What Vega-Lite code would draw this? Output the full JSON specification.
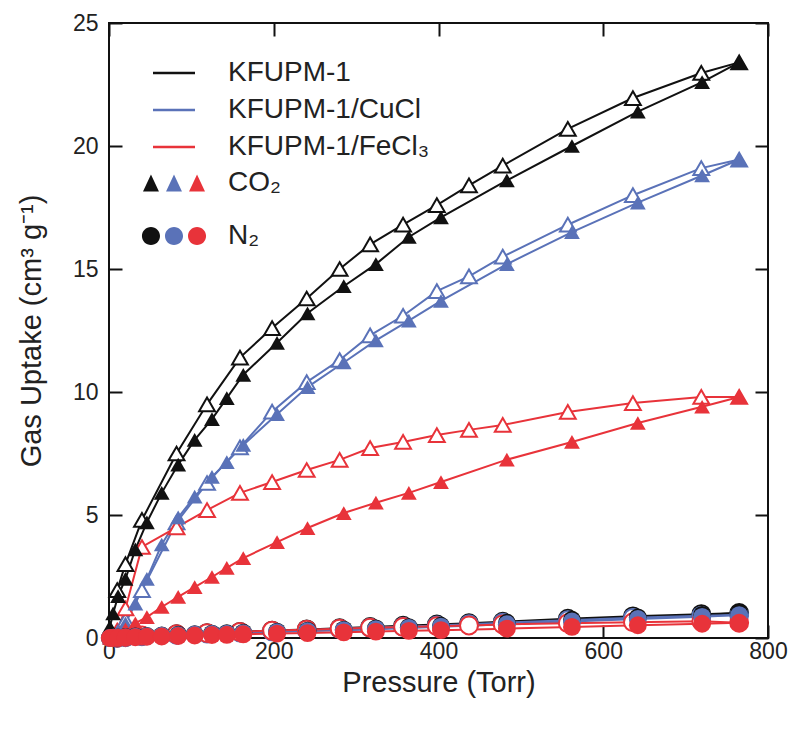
{
"$schema":"https://vega.github.io/schema/vega-lite/v6.json",
"autosize":"none",
"padding":{"left":109,"top":23,"right":25,"bottom":91},
"width":659,"height":615,
"config":{"view":{"stroke":"#111","strokeWidth":2},"font":"Liberation Sans",
"axis":{"domain":false,"grid":false,"ticks":true,"tickSize":-13,"tickWidth":2,"tickColor":"#111","labelFont":"Liberation Sans","labelFontSize":23,"labelColor":"#222","labelFlush":false,"titleFont":"Liberation Sans","titleFontSize":29,"titleFontWeight":"normal","titleColor":"#222"},
"legend":{"orient":"none","title":null,"symbolSize":196,"labelFont":"Liberation Sans","labelFontSize":28,"labelColor":"#222","labelOffset":40,"labelLimit":400}},
"datasets":{"iso":[
{"mat":"KFUPM-1","gas":"CO₂","br":"ads","p":1,"v":0.45},{"mat":"KFUPM-1","gas":"CO₂","br":"ads","p":5,"v":1.0},{"mat":"KFUPM-1","gas":"CO₂","br":"ads","p":11,"v":1.7},{"mat":"KFUPM-1","gas":"CO₂","br":"ads","p":20,"v":2.4},{"mat":"KFUPM-1","gas":"CO₂","br":"ads","p":32,"v":3.6},{"mat":"KFUPM-1","gas":"CO₂","br":"ads","p":46,"v":4.7},{"mat":"KFUPM-1","gas":"CO₂","br":"ads","p":64,"v":5.9},{"mat":"KFUPM-1","gas":"CO₂","br":"ads","p":84,"v":7.05},{"mat":"KFUPM-1","gas":"CO₂","br":"ads","p":104,"v":8.05},{"mat":"KFUPM-1","gas":"CO₂","br":"ads","p":125,"v":8.9},{"mat":"KFUPM-1","gas":"CO₂","br":"ads","p":143,"v":9.75},{"mat":"KFUPM-1","gas":"CO₂","br":"ads","p":163,"v":10.7},{"mat":"KFUPM-1","gas":"CO₂","br":"ads","p":204,"v":12.0},{"mat":"KFUPM-1","gas":"CO₂","br":"ads","p":241,"v":13.2},{"mat":"KFUPM-1","gas":"CO₂","br":"ads","p":285,"v":14.3},{"mat":"KFUPM-1","gas":"CO₂","br":"ads","p":324,"v":15.2},{"mat":"KFUPM-1","gas":"CO₂","br":"ads","p":364,"v":16.3},{"mat":"KFUPM-1","gas":"CO₂","br":"ads","p":403,"v":17.1},{"mat":"KFUPM-1","gas":"CO₂","br":"ads","p":483,"v":18.6},{"mat":"KFUPM-1","gas":"CO₂","br":"ads","p":562,"v":20.0},{"mat":"KFUPM-1","gas":"CO₂","br":"ads","p":642,"v":21.4},{"mat":"KFUPM-1","gas":"CO₂","br":"ads","p":720,"v":22.6},{"mat":"KFUPM-1","gas":"CO₂","br":"ads","p":765,"v":23.4},
{"mat":"KFUPM-1","gas":"CO₂","br":"des","p":765,"v":23.4},{"mat":"KFUPM-1","gas":"CO₂","br":"des","p":719,"v":22.97},{"mat":"KFUPM-1","gas":"CO₂","br":"des","p":636,"v":21.95},{"mat":"KFUPM-1","gas":"CO₂","br":"des","p":557,"v":20.7},{"mat":"KFUPM-1","gas":"CO₂","br":"des","p":478,"v":19.2},{"mat":"KFUPM-1","gas":"CO₂","br":"des","p":437,"v":18.4},{"mat":"KFUPM-1","gas":"CO₂","br":"des","p":398,"v":17.6},{"mat":"KFUPM-1","gas":"CO₂","br":"des","p":357,"v":16.8},{"mat":"KFUPM-1","gas":"CO₂","br":"des","p":317,"v":16.0},{"mat":"KFUPM-1","gas":"CO₂","br":"des","p":280,"v":15.0},{"mat":"KFUPM-1","gas":"CO₂","br":"des","p":240,"v":13.8},{"mat":"KFUPM-1","gas":"CO₂","br":"des","p":198,"v":12.6},{"mat":"KFUPM-1","gas":"CO₂","br":"des","p":159,"v":11.4},{"mat":"KFUPM-1","gas":"CO₂","br":"des","p":119,"v":9.5},{"mat":"KFUPM-1","gas":"CO₂","br":"des","p":82,"v":7.5},{"mat":"KFUPM-1","gas":"CO₂","br":"des","p":40,"v":4.8},{"mat":"KFUPM-1","gas":"CO₂","br":"des","p":20,"v":3.0},{"mat":"KFUPM-1","gas":"CO₂","br":"des","p":10,"v":1.95},
{"mat":"KFUPM-1/CuCl","gas":"CO₂","br":"ads","p":1,"v":0.05},{"mat":"KFUPM-1/CuCl","gas":"CO₂","br":"ads","p":5,"v":0.12},{"mat":"KFUPM-1/CuCl","gas":"CO₂","br":"ads","p":11,"v":0.3},{"mat":"KFUPM-1/CuCl","gas":"CO₂","br":"ads","p":20,"v":0.6},{"mat":"KFUPM-1/CuCl","gas":"CO₂","br":"ads","p":32,"v":1.4},{"mat":"KFUPM-1/CuCl","gas":"CO₂","br":"ads","p":46,"v":2.4},{"mat":"KFUPM-1/CuCl","gas":"CO₂","br":"ads","p":64,"v":3.8},{"mat":"KFUPM-1/CuCl","gas":"CO₂","br":"ads","p":84,"v":4.9},{"mat":"KFUPM-1/CuCl","gas":"CO₂","br":"ads","p":104,"v":5.75},{"mat":"KFUPM-1/CuCl","gas":"CO₂","br":"ads","p":125,"v":6.55},{"mat":"KFUPM-1/CuCl","gas":"CO₂","br":"ads","p":143,"v":7.15},{"mat":"KFUPM-1/CuCl","gas":"CO₂","br":"ads","p":163,"v":7.85},{"mat":"KFUPM-1/CuCl","gas":"CO₂","br":"ads","p":204,"v":9.1},{"mat":"KFUPM-1/CuCl","gas":"CO₂","br":"ads","p":241,"v":10.2},{"mat":"KFUPM-1/CuCl","gas":"CO₂","br":"ads","p":285,"v":11.2},{"mat":"KFUPM-1/CuCl","gas":"CO₂","br":"ads","p":324,"v":12.1},{"mat":"KFUPM-1/CuCl","gas":"CO₂","br":"ads","p":364,"v":12.9},{"mat":"KFUPM-1/CuCl","gas":"CO₂","br":"ads","p":403,"v":13.7},{"mat":"KFUPM-1/CuCl","gas":"CO₂","br":"ads","p":483,"v":15.2},{"mat":"KFUPM-1/CuCl","gas":"CO₂","br":"ads","p":562,"v":16.5},{"mat":"KFUPM-1/CuCl","gas":"CO₂","br":"ads","p":642,"v":17.7},{"mat":"KFUPM-1/CuCl","gas":"CO₂","br":"ads","p":720,"v":18.8},{"mat":"KFUPM-1/CuCl","gas":"CO₂","br":"ads","p":765,"v":19.45},
{"mat":"KFUPM-1/CuCl","gas":"CO₂","br":"des","p":765,"v":19.45},{"mat":"KFUPM-1/CuCl","gas":"CO₂","br":"des","p":719,"v":19.1},{"mat":"KFUPM-1/CuCl","gas":"CO₂","br":"des","p":636,"v":18.0},{"mat":"KFUPM-1/CuCl","gas":"CO₂","br":"des","p":557,"v":16.8},{"mat":"KFUPM-1/CuCl","gas":"CO₂","br":"des","p":478,"v":15.5},{"mat":"KFUPM-1/CuCl","gas":"CO₂","br":"des","p":437,"v":14.7},{"mat":"KFUPM-1/CuCl","gas":"CO₂","br":"des","p":398,"v":14.1},{"mat":"KFUPM-1/CuCl","gas":"CO₂","br":"des","p":357,"v":13.1},{"mat":"KFUPM-1/CuCl","gas":"CO₂","br":"des","p":317,"v":12.3},{"mat":"KFUPM-1/CuCl","gas":"CO₂","br":"des","p":280,"v":11.3},{"mat":"KFUPM-1/CuCl","gas":"CO₂","br":"des","p":240,"v":10.4},{"mat":"KFUPM-1/CuCl","gas":"CO₂","br":"des","p":198,"v":9.2},{"mat":"KFUPM-1/CuCl","gas":"CO₂","br":"des","p":159,"v":7.75},{"mat":"KFUPM-1/CuCl","gas":"CO₂","br":"des","p":119,"v":6.3},{"mat":"KFUPM-1/CuCl","gas":"CO₂","br":"des","p":82,"v":4.7},{"mat":"KFUPM-1/CuCl","gas":"CO₂","br":"des","p":40,"v":1.95},{"mat":"KFUPM-1/CuCl","gas":"CO₂","br":"des","p":20,"v":0.73},{"mat":"KFUPM-1/CuCl","gas":"CO₂","br":"des","p":10,"v":0.2},
{"mat":"KFUPM-1/FeCl₃","gas":"CO₂","br":"ads","p":1,"v":0.0},{"mat":"KFUPM-1/FeCl₃","gas":"CO₂","br":"ads","p":5,"v":0.05},{"mat":"KFUPM-1/FeCl₃","gas":"CO₂","br":"ads","p":11,"v":0.15},{"mat":"KFUPM-1/FeCl₃","gas":"CO₂","br":"ads","p":20,"v":0.35},{"mat":"KFUPM-1/FeCl₃","gas":"CO₂","br":"ads","p":32,"v":0.6},{"mat":"KFUPM-1/FeCl₃","gas":"CO₂","br":"ads","p":46,"v":0.85},{"mat":"KFUPM-1/FeCl₃","gas":"CO₂","br":"ads","p":64,"v":1.26},{"mat":"KFUPM-1/FeCl₃","gas":"CO₂","br":"ads","p":84,"v":1.67},{"mat":"KFUPM-1/FeCl₃","gas":"CO₂","br":"ads","p":104,"v":2.07},{"mat":"KFUPM-1/FeCl₃","gas":"CO₂","br":"ads","p":125,"v":2.48},{"mat":"KFUPM-1/FeCl₃","gas":"CO₂","br":"ads","p":143,"v":2.85},{"mat":"KFUPM-1/FeCl₃","gas":"CO₂","br":"ads","p":163,"v":3.25},{"mat":"KFUPM-1/FeCl₃","gas":"CO₂","br":"ads","p":204,"v":3.9},{"mat":"KFUPM-1/FeCl₃","gas":"CO₂","br":"ads","p":241,"v":4.47},{"mat":"KFUPM-1/FeCl₃","gas":"CO₂","br":"ads","p":285,"v":5.08},{"mat":"KFUPM-1/FeCl₃","gas":"CO₂","br":"ads","p":324,"v":5.5},{"mat":"KFUPM-1/FeCl₃","gas":"CO₂","br":"ads","p":364,"v":5.9},{"mat":"KFUPM-1/FeCl₃","gas":"CO₂","br":"ads","p":403,"v":6.34},{"mat":"KFUPM-1/FeCl₃","gas":"CO₂","br":"ads","p":483,"v":7.25},{"mat":"KFUPM-1/FeCl₃","gas":"CO₂","br":"ads","p":562,"v":7.97},{"mat":"KFUPM-1/FeCl₃","gas":"CO₂","br":"ads","p":642,"v":8.74},{"mat":"KFUPM-1/FeCl₃","gas":"CO₂","br":"ads","p":720,"v":9.4},{"mat":"KFUPM-1/FeCl₃","gas":"CO₂","br":"ads","p":765,"v":9.8},
{"mat":"KFUPM-1/FeCl₃","gas":"CO₂","br":"des","p":765,"v":9.8},{"mat":"KFUPM-1/FeCl₃","gas":"CO₂","br":"des","p":719,"v":9.8},{"mat":"KFUPM-1/FeCl₃","gas":"CO₂","br":"des","p":636,"v":9.55},{"mat":"KFUPM-1/FeCl₃","gas":"CO₂","br":"des","p":557,"v":9.19},{"mat":"KFUPM-1/FeCl₃","gas":"CO₂","br":"des","p":478,"v":8.66},{"mat":"KFUPM-1/FeCl₃","gas":"CO₂","br":"des","p":437,"v":8.46},{"mat":"KFUPM-1/FeCl₃","gas":"CO₂","br":"des","p":398,"v":8.25},{"mat":"KFUPM-1/FeCl₃","gas":"CO₂","br":"des","p":357,"v":7.97},{"mat":"KFUPM-1/FeCl₃","gas":"CO₂","br":"des","p":317,"v":7.72},{"mat":"KFUPM-1/FeCl₃","gas":"CO₂","br":"des","p":280,"v":7.24},{"mat":"KFUPM-1/FeCl₃","gas":"CO₂","br":"des","p":240,"v":6.83},{"mat":"KFUPM-1/FeCl₃","gas":"CO₂","br":"des","p":198,"v":6.34},{"mat":"KFUPM-1/FeCl₃","gas":"CO₂","br":"des","p":159,"v":5.9},{"mat":"KFUPM-1/FeCl₃","gas":"CO₂","br":"des","p":119,"v":5.2},{"mat":"KFUPM-1/FeCl₃","gas":"CO₂","br":"des","p":82,"v":4.5},{"mat":"KFUPM-1/FeCl₃","gas":"CO₂","br":"des","p":40,"v":3.7},{"mat":"KFUPM-1/FeCl₃","gas":"CO₂","br":"des","p":20,"v":1.2},{"mat":"KFUPM-1/FeCl₃","gas":"CO₂","br":"des","p":10,"v":0.3},
{"mat":"KFUPM-1","gas":"N₂","br":"ads","p":1,"v":0.0},{"mat":"KFUPM-1","gas":"N₂","br":"ads","p":5,"v":0.01},{"mat":"KFUPM-1","gas":"N₂","br":"ads","p":11,"v":0.02},{"mat":"KFUPM-1","gas":"N₂","br":"ads","p":20,"v":0.04},{"mat":"KFUPM-1","gas":"N₂","br":"ads","p":32,"v":0.06},{"mat":"KFUPM-1","gas":"N₂","br":"ads","p":46,"v":0.08},{"mat":"KFUPM-1","gas":"N₂","br":"ads","p":64,"v":0.1},{"mat":"KFUPM-1","gas":"N₂","br":"ads","p":84,"v":0.13},{"mat":"KFUPM-1","gas":"N₂","br":"ads","p":104,"v":0.15},{"mat":"KFUPM-1","gas":"N₂","br":"ads","p":125,"v":0.18},{"mat":"KFUPM-1","gas":"N₂","br":"ads","p":143,"v":0.2},{"mat":"KFUPM-1","gas":"N₂","br":"ads","p":163,"v":0.22},{"mat":"KFUPM-1","gas":"N₂","br":"ads","p":204,"v":0.26},{"mat":"KFUPM-1","gas":"N₂","br":"ads","p":241,"v":0.3},{"mat":"KFUPM-1","gas":"N₂","br":"ads","p":285,"v":0.34},{"mat":"KFUPM-1","gas":"N₂","br":"ads","p":324,"v":0.39},{"mat":"KFUPM-1","gas":"N₂","br":"ads","p":364,"v":0.44},{"mat":"KFUPM-1","gas":"N₂","br":"ads","p":403,"v":0.5},{"mat":"KFUPM-1","gas":"N₂","br":"ads","p":483,"v":0.62},{"mat":"KFUPM-1","gas":"N₂","br":"ads","p":562,"v":0.74},{"mat":"KFUPM-1","gas":"N₂","br":"ads","p":642,"v":0.84},{"mat":"KFUPM-1","gas":"N₂","br":"ads","p":720,"v":0.94},{"mat":"KFUPM-1","gas":"N₂","br":"ads","p":765,"v":1.02},
{"mat":"KFUPM-1","gas":"N₂","br":"des","p":765,"v":1.02},{"mat":"KFUPM-1","gas":"N₂","br":"des","p":719,"v":0.97},{"mat":"KFUPM-1","gas":"N₂","br":"des","p":636,"v":0.88},{"mat":"KFUPM-1","gas":"N₂","br":"des","p":557,"v":0.78},{"mat":"KFUPM-1","gas":"N₂","br":"des","p":478,"v":0.66},{"mat":"KFUPM-1","gas":"N₂","br":"des","p":437,"v":0.6},{"mat":"KFUPM-1","gas":"N₂","br":"des","p":398,"v":0.55},{"mat":"KFUPM-1","gas":"N₂","br":"des","p":357,"v":0.5},{"mat":"KFUPM-1","gas":"N₂","br":"des","p":317,"v":0.45},{"mat":"KFUPM-1","gas":"N₂","br":"des","p":280,"v":0.4},{"mat":"KFUPM-1","gas":"N₂","br":"des","p":240,"v":0.35},{"mat":"KFUPM-1","gas":"N₂","br":"des","p":198,"v":0.3},{"mat":"KFUPM-1","gas":"N₂","br":"des","p":159,"v":0.25},{"mat":"KFUPM-1","gas":"N₂","br":"des","p":119,"v":0.2},{"mat":"KFUPM-1","gas":"N₂","br":"des","p":82,"v":0.15},{"mat":"KFUPM-1","gas":"N₂","br":"des","p":40,"v":0.08},{"mat":"KFUPM-1","gas":"N₂","br":"des","p":20,"v":0.04},{"mat":"KFUPM-1","gas":"N₂","br":"des","p":10,"v":0.02},
{"mat":"KFUPM-1/CuCl","gas":"N₂","br":"ads","p":1,"v":0.0},{"mat":"KFUPM-1/CuCl","gas":"N₂","br":"ads","p":5,"v":0.01},{"mat":"KFUPM-1/CuCl","gas":"N₂","br":"ads","p":11,"v":0.02},{"mat":"KFUPM-1/CuCl","gas":"N₂","br":"ads","p":20,"v":0.03},{"mat":"KFUPM-1/CuCl","gas":"N₂","br":"ads","p":32,"v":0.05},{"mat":"KFUPM-1/CuCl","gas":"N₂","br":"ads","p":46,"v":0.07},{"mat":"KFUPM-1/CuCl","gas":"N₂","br":"ads","p":64,"v":0.09},{"mat":"KFUPM-1/CuCl","gas":"N₂","br":"ads","p":84,"v":0.11},{"mat":"KFUPM-1/CuCl","gas":"N₂","br":"ads","p":104,"v":0.14},{"mat":"KFUPM-1/CuCl","gas":"N₂","br":"ads","p":125,"v":0.16},{"mat":"KFUPM-1/CuCl","gas":"N₂","br":"ads","p":143,"v":0.18},{"mat":"KFUPM-1/CuCl","gas":"N₂","br":"ads","p":163,"v":0.2},{"mat":"KFUPM-1/CuCl","gas":"N₂","br":"ads","p":204,"v":0.24},{"mat":"KFUPM-1/CuCl","gas":"N₂","br":"ads","p":241,"v":0.28},{"mat":"KFUPM-1/CuCl","gas":"N₂","br":"ads","p":285,"v":0.32},{"mat":"KFUPM-1/CuCl","gas":"N₂","br":"ads","p":324,"v":0.36},{"mat":"KFUPM-1/CuCl","gas":"N₂","br":"ads","p":364,"v":0.41},{"mat":"KFUPM-1/CuCl","gas":"N₂","br":"ads","p":403,"v":0.46},{"mat":"KFUPM-1/CuCl","gas":"N₂","br":"ads","p":483,"v":0.56},{"mat":"KFUPM-1/CuCl","gas":"N₂","br":"ads","p":562,"v":0.67},{"mat":"KFUPM-1/CuCl","gas":"N₂","br":"ads","p":642,"v":0.77},{"mat":"KFUPM-1/CuCl","gas":"N₂","br":"ads","p":720,"v":0.86},{"mat":"KFUPM-1/CuCl","gas":"N₂","br":"ads","p":765,"v":0.93},
{"mat":"KFUPM-1/CuCl","gas":"N₂","br":"des","p":765,"v":0.93},{"mat":"KFUPM-1/CuCl","gas":"N₂","br":"des","p":719,"v":0.9},{"mat":"KFUPM-1/CuCl","gas":"N₂","br":"des","p":636,"v":0.82},{"mat":"KFUPM-1/CuCl","gas":"N₂","br":"des","p":557,"v":0.72},{"mat":"KFUPM-1/CuCl","gas":"N₂","br":"des","p":478,"v":0.62},{"mat":"KFUPM-1/CuCl","gas":"N₂","br":"des","p":437,"v":0.56},{"mat":"KFUPM-1/CuCl","gas":"N₂","br":"des","p":398,"v":0.51},{"mat":"KFUPM-1/CuCl","gas":"N₂","br":"des","p":357,"v":0.46},{"mat":"KFUPM-1/CuCl","gas":"N₂","br":"des","p":317,"v":0.42},{"mat":"KFUPM-1/CuCl","gas":"N₂","br":"des","p":280,"v":0.37},{"mat":"KFUPM-1/CuCl","gas":"N₂","br":"des","p":240,"v":0.32},{"mat":"KFUPM-1/CuCl","gas":"N₂","br":"des","p":198,"v":0.27},{"mat":"KFUPM-1/CuCl","gas":"N₂","br":"des","p":159,"v":0.22},{"mat":"KFUPM-1/CuCl","gas":"N₂","br":"des","p":119,"v":0.18},{"mat":"KFUPM-1/CuCl","gas":"N₂","br":"des","p":82,"v":0.13},{"mat":"KFUPM-1/CuCl","gas":"N₂","br":"des","p":40,"v":0.07},{"mat":"KFUPM-1/CuCl","gas":"N₂","br":"des","p":20,"v":0.03},{"mat":"KFUPM-1/CuCl","gas":"N₂","br":"des","p":10,"v":0.01},
{"mat":"KFUPM-1/FeCl₃","gas":"N₂","br":"ads","p":1,"v":0.0},{"mat":"KFUPM-1/FeCl₃","gas":"N₂","br":"ads","p":5,"v":0.0},{"mat":"KFUPM-1/FeCl₃","gas":"N₂","br":"ads","p":11,"v":0.01},{"mat":"KFUPM-1/FeCl₃","gas":"N₂","br":"ads","p":20,"v":0.02},{"mat":"KFUPM-1/FeCl₃","gas":"N₂","br":"ads","p":32,"v":0.03},{"mat":"KFUPM-1/FeCl₃","gas":"N₂","br":"ads","p":46,"v":0.05},{"mat":"KFUPM-1/FeCl₃","gas":"N₂","br":"ads","p":64,"v":0.06},{"mat":"KFUPM-1/FeCl₃","gas":"N₂","br":"ads","p":84,"v":0.08},{"mat":"KFUPM-1/FeCl₃","gas":"N₂","br":"ads","p":104,"v":0.1},{"mat":"KFUPM-1/FeCl₃","gas":"N₂","br":"ads","p":125,"v":0.12},{"mat":"KFUPM-1/FeCl₃","gas":"N₂","br":"ads","p":143,"v":0.13},{"mat":"KFUPM-1/FeCl₃","gas":"N₂","br":"ads","p":163,"v":0.15},{"mat":"KFUPM-1/FeCl₃","gas":"N₂","br":"ads","p":204,"v":0.18},{"mat":"KFUPM-1/FeCl₃","gas":"N₂","br":"ads","p":241,"v":0.2},{"mat":"KFUPM-1/FeCl₃","gas":"N₂","br":"ads","p":285,"v":0.23},{"mat":"KFUPM-1/FeCl₃","gas":"N₂","br":"ads","p":324,"v":0.26},{"mat":"KFUPM-1/FeCl₃","gas":"N₂","br":"ads","p":364,"v":0.29},{"mat":"KFUPM-1/FeCl₃","gas":"N₂","br":"ads","p":403,"v":0.32},{"mat":"KFUPM-1/FeCl₃","gas":"N₂","br":"ads","p":483,"v":0.38},{"mat":"KFUPM-1/FeCl₃","gas":"N₂","br":"ads","p":562,"v":0.45},{"mat":"KFUPM-1/FeCl₃","gas":"N₂","br":"ads","p":642,"v":0.52},{"mat":"KFUPM-1/FeCl₃","gas":"N₂","br":"ads","p":720,"v":0.58},{"mat":"KFUPM-1/FeCl₃","gas":"N₂","br":"ads","p":765,"v":0.62},
{"mat":"KFUPM-1/FeCl₃","gas":"N₂","br":"des","p":765,"v":0.62},{"mat":"KFUPM-1/FeCl₃","gas":"N₂","br":"des","p":719,"v":0.68},{"mat":"KFUPM-1/FeCl₃","gas":"N₂","br":"des","p":636,"v":0.64},{"mat":"KFUPM-1/FeCl₃","gas":"N₂","br":"des","p":557,"v":0.6},{"mat":"KFUPM-1/FeCl₃","gas":"N₂","br":"des","p":478,"v":0.55},{"mat":"KFUPM-1/FeCl₃","gas":"N₂","br":"des","p":437,"v":0.51},{"mat":"KFUPM-1/FeCl₃","gas":"N₂","br":"des","p":398,"v":0.48},{"mat":"KFUPM-1/FeCl₃","gas":"N₂","br":"des","p":357,"v":0.45},{"mat":"KFUPM-1/FeCl₃","gas":"N₂","br":"des","p":317,"v":0.42},{"mat":"KFUPM-1/FeCl₃","gas":"N₂","br":"des","p":280,"v":0.38},{"mat":"KFUPM-1/FeCl₃","gas":"N₂","br":"des","p":240,"v":0.34},{"mat":"KFUPM-1/FeCl₃","gas":"N₂","br":"des","p":198,"v":0.3},{"mat":"KFUPM-1/FeCl₃","gas":"N₂","br":"des","p":159,"v":0.25},{"mat":"KFUPM-1/FeCl₃","gas":"N₂","br":"des","p":119,"v":0.2},{"mat":"KFUPM-1/FeCl₃","gas":"N₂","br":"des","p":82,"v":0.15},{"mat":"KFUPM-1/FeCl₃","gas":"N₂","br":"des","p":40,"v":0.1},{"mat":"KFUPM-1/FeCl₃","gas":"N₂","br":"des","p":20,"v":0.05},{"mat":"KFUPM-1/FeCl₃","gas":"N₂","br":"des","p":10,"v":0.02}
]},
"data":{"name":"iso"},
"resolve":{"axis":{"x":"independent","y":"independent"}},
"layer":[
{"mark":{"type":"line","strokeWidth":2,"clip":false},
 "encoding":{
  "x":{"field":"p","type":"quantitative","scale":{"domain":[0,800],"nice":false},"axis":{"orient":"bottom","values":[0,200,400,600,800],"title":"Pressure (Torr)","labelPadding":15,"titlePadding":5}},
  "y":{"field":"v","type":"quantitative","scale":{"domain":[0,25],"nice":false},"axis":{"orient":"left","values":[0,5,10,15,20,25],"title":"Gas Uptake (cm³ g⁻¹)","labelPadding":24,"titlePadding":26}},
  "color":{"field":"mat","type":"nominal","scale":{"domain":["KFUPM-1","KFUPM-1/CuCl","KFUPM-1/FeCl₃"],"range":["#111111","#5a72b8","#e8333a"]},
   "legend":{"legendX":51,"legendY":36,"symbolType":"M-3,0L3,0","symbolStrokeWidth":2.5,"rowPadding":9,"symbolOpacity":1}},
  "detail":[{"field":"gas"},{"field":"br"}]
 }},
{"transform":[{"filter":"datum.br == 'ads'"}],
 "mark":{"type":"point","filled":true,"opacity":0,
   "color":{"gradient":"linear","x1":0,"y1":0,"x2":1,"y2":0,"stops":[{"offset":0,"color":"#111111"},{"offset":0.32,"color":"#111111"},{"offset":0.32,"color":"#5a72b8"},{"offset":0.68,"color":"#5a72b8"},{"offset":0.68,"color":"#e8333a"},{"offset":1,"color":"#e8333a"}]}},
 "encoding":{
  "x":{"field":"p","type":"quantitative","axis":{"orient":"top","labels":false,"title":null,"values":[0,200,400,600,800]}},
  "y":{"field":"v","type":"quantitative","axis":{"orient":"right","labels":false,"title":null,"values":[0,5,10,15,20,25]}},
  "shape":{"field":"gas","type":"nominal","scale":{"domain":["CO₂","N₂"],"range":["M-4.43,1.2L-3.29,-1.2L-2.15,1.2ZM-1.14,1.2L0,-1.2L1.14,1.2ZM2.15,1.2L3.29,-1.2L4.43,1.2Z","M-4.58,0C-4.58,-0.71 -4,-1.29 -3.29,-1.29C-2.58,-1.29 -2,-0.71 -2,0C-2,0.71 -2.58,1.29 -3.29,1.29C-4,1.29 -4.58,0.71 -4.58,0ZM-1.29,0C-1.29,-0.71 -0.71,-1.29 0,-1.29C0.71,-1.29 1.29,-0.71 1.29,0C1.29,0.71 0.71,1.29 0,1.29C-0.71,1.29 -1.29,0.71 -1.29,0ZM2,0C2,-0.71 2.58,-1.29 3.29,-1.29C4,-1.29 4.58,-0.71 4.58,0C4.58,0.71 4,1.29 3.29,1.29C2.58,1.29 2,0.71 2,0Z"]},
   "legend":{"legendX":51,"legendY":146,"rowPadding":25,"symbolOpacity":1,"symbolStrokeWidth":0,"symbolStrokeColor":"transparent"}}
 }},
{"transform":[{"filter":"datum.br == 'des' && datum.gas == 'CO₂'"}],
 "mark":{"type":"point","shape":"triangle-up","filled":true,"fill":"white","strokeWidth":2,"opacity":1,"size":250},
 "encoding":{
  "x":{"field":"p","type":"quantitative","axis":null},
  "y":{"field":"v","type":"quantitative","axis":null},
  "stroke":{"field":"mat","type":"nominal","scale":{"domain":["KFUPM-1","KFUPM-1/CuCl","KFUPM-1/FeCl₃"],"range":["#111111","#5a72b8","#e8333a"]},"legend":null}
 }},
{"transform":[{"filter":"datum.br == 'des' && datum.gas == 'N₂'"}],
 "mark":{"type":"point","shape":"circle","filled":true,"fill":"white","strokeWidth":2,"opacity":1,"size":320},
 "encoding":{
  "x":{"field":"p","type":"quantitative","axis":null},
  "y":{"field":"v","type":"quantitative","axis":null},
  "stroke":{"field":"mat","type":"nominal","legend":null}
 }},
{"transform":[{"filter":"datum.br == 'ads' && datum.gas == 'CO₂'"}],
 "mark":{"type":"point","shape":"triangle-up","filled":true,"opacity":1,"size":250},
 "encoding":{
  "x":{"field":"p","type":"quantitative","axis":null},
  "y":{"field":"v","type":"quantitative","axis":null},
  "color":{"field":"mat","type":"nominal"}
 }},
{"transform":[{"filter":"datum.br == 'ads' && datum.gas == 'N₂'"}],
 "mark":{"type":"point","shape":"circle","filled":true,"opacity":1,"size":320},
 "encoding":{
  "x":{"field":"p","type":"quantitative","axis":null},
  "y":{"field":"v","type":"quantitative","axis":null},
  "color":{"field":"mat","type":"nominal"}
 }}
]
}
